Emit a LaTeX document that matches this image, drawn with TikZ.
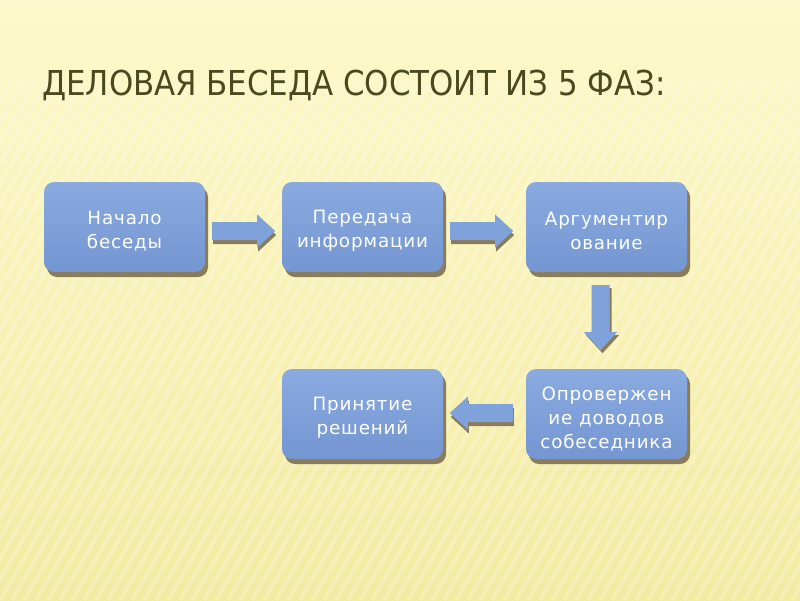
\documentclass[tikz,border=0pt]{standalone}
\usepackage{fontspec}
\setmainfont{DejaVu Sans}
\newfontfamily\titlefont{DejaVu Sans Condensed}
\newfontfamily\boxfont[LetterSpace=4.5]{DejaVu Sans}
\usetikzlibrary{calc}
\definecolor{bgtop}{HTML}{FDF9CC}
\definecolor{bgbot}{HTML}{F3EBA2}
\definecolor{boxtop}{HTML}{8AAAE0}
\definecolor{boxbot}{HTML}{7496D1}
\definecolor{arrowblue}{HTML}{80A2DA}
\definecolor{shadowcol}{HTML}{8A7C5A}
\definecolor{titlecol}{HTML}{4A4A1E}
\tikzset{
  phase/.style={rounded corners=10pt, minimum width=161pt, minimum height=90pt,
    top color=boxtop, bottom color=boxbot, draw=none, inner sep=0pt},
  phasetext/.style={text=white, font=\boxfont\fontsize{18.3}{24}\selectfont,
    align=center, inner sep=0pt},
  boxshadow/.style={rounded corners=10pt, fill=shadowcol, draw=none},
  arrowbody/.style={fill=arrowblue, draw=none},
  arrowshadow/.style={fill=shadowcol, draw=none},
}
% right arrow shape, local origin at shaft start centre, length #1
\newcommand{\rightblock}[1]{(0,-9) -- ({#1-18},-9) -- ({#1-18},-16.5) -- (#1,0) -- ({#1-18},16.5) -- ({#1-18},9) -- (0,9) -- cycle}
\begin{document}
\begin{tikzpicture}[x=1pt,y=-1pt]
\useasboundingbox (0,0) rectangle (800,600);
% background
\shade[top color=bgtop, bottom color=bgbot] (0,0) rectangle (800,600);
\begin{scope}
\clip (0,0) rectangle (800,600);
\foreach \i in {-40,...,80} {
  \draw[white, opacity=0.22, line width=4pt] ({\i*12},600) -- ({\i*12+300},80);
}
\end{scope}
% title
\node[anchor=base west, inner sep=0pt, text=titlecol, font=\titlefont\fontsize{34.3}{40}\selectfont] (title) at (42,95) {ДЕЛОВАЯ БЕСЕДА СОСТОИТ ИЗ 5 ФАЗ:};
% box shadows
\foreach \cx/\cy in {124.5/227, 362.5/227, 606.5/227, 362.5/414, 606.5/414} {
  \fill[boxshadow] ({\cx-80.5+3},{\cy-45+5}) rectangle ({\cx+80.5+3},{\cy+45+5});
}
% boxes
\node[phase] (b1) at (124.5,227) {};
\node[phase] (b2) at (362.5,227) {};
\node[phase] (b3) at (606.5,227) {};
\node[phase] (b4) at (362.5,414) {};
\node[phase] (b5) at (606.5,414) {};
\node[phasetext] (t1) at ($(b1.center)+(0,4)$) {Начало\\беседы};
\node[phasetext] (t2) at ($(b2.center)+(0,4)$) {Передача\\информации};
\node[phasetext] (t3) at ($(b3.center)+(0,4)$) {Аргументир\\ование};
\node[phasetext] (t4) at ($(b4.center)+(0,4)$) {Принятие\\решений};
\node[phasetext] (t5) at ($(b5.center)+(0,5)$) {Опровержен\\ие доводов\\собеседника};
% connector anchor points
\coordinate (a1) at ($(b1.east)+(7,4)$);
\coordinate (a2) at ($(b2.east)+(7,4)$);
\coordinate (a3) at ($(b3.south)+(-6,13)$);
\coordinate (a4) at ($(b5.west)+(-13,-1)$);
% right arrows b1->b2, b2->b3
\foreach \c in {a1,a2} {
  \fill[arrowshadow, shift={(\c)}, xshift=1pt, yshift=-4pt] \rightblock{63};
  \fill[arrowbody, shift={(\c)}] \rightblock{63};
}
% down arrow b3->b5
\fill[arrowshadow, shift={(a3)}, xshift=2pt, yshift=-3pt, rotate=-90] \rightblock{65};
\fill[arrowbody, shift={(a3)}, rotate=-90] \rightblock{65};
% left arrow b5->b4
\fill[arrowshadow, shift={(a4)}, xshift=1pt, yshift=-4pt, rotate=180] \rightblock{63};
\fill[arrowbody, shift={(a4)}, rotate=180] \rightblock{63};
\end{tikzpicture}
\end{document}
